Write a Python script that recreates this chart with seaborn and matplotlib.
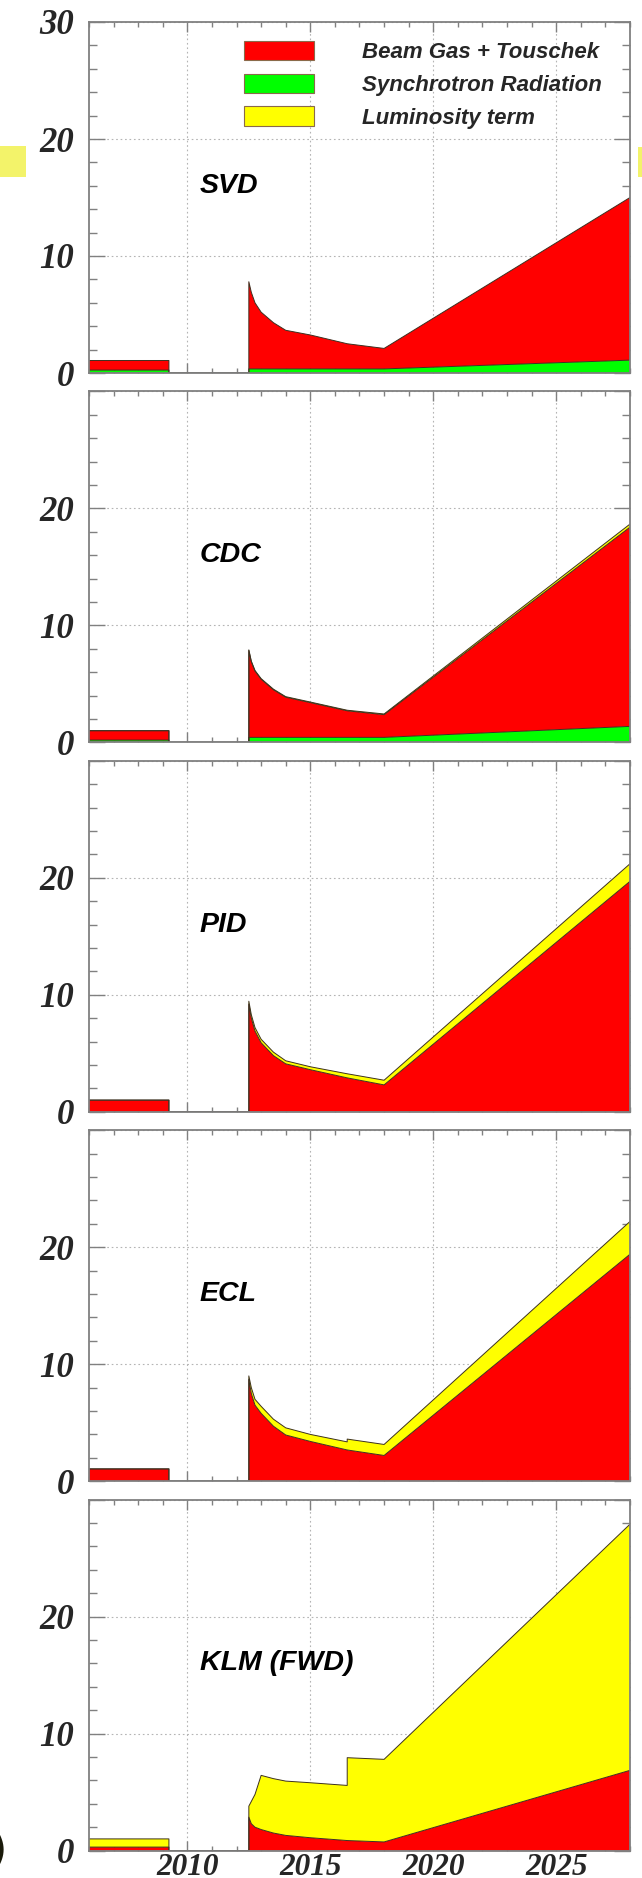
import numpy as np
import pandas as pd
import matplotlib
matplotlib.use("Agg")
import matplotlib.pyplot as plt
from matplotlib.patches import Patch, Rectangle
from matplotlib.ticker import MultipleLocator
import seaborn as sns

# ---- data: background rates per sub-detector (stacked components) ----
years = [2006.0, 2009.25, 2009.25, 2012.5, 2012.5, 2012.6, 2012.75, 2013.0,
         2013.5, 2014.0, 2015.0, 2016.5, 2016.5, 2018.0, 2028.0]

detectors = ["SVD", "CDC", "PID", "ECL", "KLM (FWD)"]

svd_sr = [0.25, 0.25, 0, 0, 0.35, 0.35, 0.35, 0.35, 0.35, 0.35, 0.35, 0.35, 0.35, 0.35, 1.1]
svd_bg = [0.82, 0.82, 0, 0, 7.45, 6.55, 5.65, 4.85, 3.95, 3.3, 2.9, 2.15, 2.15, 1.75, 13.9]
svd_lumi = [0, 0, 0, 0, 0, 0, 0, 0, 0, 0, 0, 0, 0, 0, 0]

cdc_sr = [0.2, 0.2, 0, 0, 0.43, 0.43, 0.43, 0.43, 0.43, 0.43, 0.43, 0.43, 0.43, 0.43, 1.37]
cdc_bg = [0.8, 0.8, 0, 0, 7.43, 6.47, 5.67, 4.97, 4.07, 3.43, 2.97, 2.27, 2.27, 1.94, 17.03]
cdc_lumi = [0, 0, 0, 0, 0.05, 0.05, 0.05, 0.05, 0.05, 0.05, 0.05, 0.05, 0.05, 0.06, 0.26]

pid_sr = [0, 0, 0, 0, 0, 0, 0, 0, 0, 0, 0, 0, 0, 0, 0]
pid_bg = [1.0, 1.0, 0, 0, 9.2, 8.0, 6.9, 5.9, 4.8, 4.1, 3.6, 2.9, 2.9, 2.3, 19.7]
pid_lumi = [0, 0, 0, 0, 0.25, 0.3, 0.3, 0.3, 0.3, 0.26, 0.25, 0.35, 0.35, 0.4, 1.5]

ecl_sr = [0, 0, 0, 0, 0, 0, 0, 0, 0, 0, 0, 0, 0, 0, 0]
ecl_bg = [1.05, 1.05, 0, 0, 8.7, 7.5, 6.5, 5.8, 4.7, 3.95, 3.4, 2.67, 2.67, 2.2, 19.4]
ecl_lumi = [0, 0, 0, 0, 0.3, 0.5, 0.5, 0.6, 0.6, 0.61, 0.6, 0.69, 0.93, 0.94, 2.8]

klm_sr = [0, 0, 0, 0, 0, 0, 0, 0, 0, 0, 0, 0, 0, 0, 0]
klm_bg = [0.3, 0.3, 0, 0, 2.86, 2.3, 2.0, 1.8, 1.5, 1.3, 1.1, 0.86, 0.86, 0.74, 6.86]
klm_lumi = [0.7, 0.7, 0, 0, 0.94, 1.9, 2.8, 4.63, 4.65, 4.64, 4.7, 4.71, 7.08, 7.06, 21.04]

components = ["Synchrotron Radiation", "Beam Gas + Touschek", "Luminosity term"]
legend_order = ["Beam Gas + Touschek", "Synchrotron Radiation", "Luminosity term"]
x_ticks = [2010, 2015, 2020, 2025]
x_tick_labels = ["2010", "2015", "2020", "2025"]

series = {
    "SVD": (svd_sr, svd_bg, svd_lumi),
    "CDC": (cdc_sr, cdc_bg, cdc_lumi),
    "PID": (pid_sr, pid_bg, pid_lumi),
    "ECL": (ecl_sr, ecl_bg, ecl_lumi),
    "KLM (FWD)": (klm_sr, klm_bg, klm_lumi),
}

# long-form table with stacked bottoms/tops
rows = []
for det in detectors:
    base = np.zeros(len(years))
    for comp, vals in zip(components, series[det]):
        vals = np.asarray(vals, dtype=float)
        for k, yr in enumerate(years):
            rows.append(dict(detector=det, component=comp, idx=k, year=yr,
                             bottom=base[k], top=base[k] + vals[k]))
        base = base + vals
df = pd.DataFrame(rows)

colors = {"Beam Gas + Touschek": "#ff0000",
          "Synchrotron Radiation": "#00ff00",
          "Luminosity term": "#ffff00"}
edge = "#3c3020"

# ---- style ----
sns.set_style("ticks")
plt.rcParams["font.family"] = ["Liberation Sans", "DejaVu Sans"]

W, H = 642, 1878
fig = plt.figure(figsize=(W / 100, H / 100), dpi=100)
fig.patch.set_facecolor("white")

left_px, right_px = 89, 630
top0, panel_h, step = 22.0, 351.0, 369.4
frame_col = "#808080"

ytick_font = dict(fontfamily="Liberation Serif", fontweight="bold",
                  fontstyle="italic", fontsize=25)
xtick_font = dict(fontfamily="Liberation Serif", fontweight="bold",
                  fontstyle="italic", fontsize=22.5)

for i, det in enumerate(detectors):
    top = top0 + i * step
    ax = fig.add_axes([left_px / W, 1 - (top + panel_h) / H,
                       (right_px - left_px) / W, panel_h / H])
    ax.set_facecolor("white")
    ax.set_axisbelow(True)
    d = df[df.detector == det]
    for comp in components:
        c = d[d.component == comp].sort_values("idx")
        if np.allclose(c["top"].values, c["bottom"].values):
            continue
        ax.fill_between(c["year"], c["bottom"], c["top"], facecolor=colors[comp],
                        edgecolor="none", linewidth=0, zorder=2)
        sns.lineplot(data=c, x="year", y="top", estimator=None, sort=False,
                     color=edge, linewidth=0.7, ax=ax, zorder=3)
    # outline along the baseline in the gap between running periods
    gap = d[(d.component == components[0])].sort_values("idx")
    sns.lineplot(data=gap, x="year", y="bottom", estimator=None, sort=False,
                 color="#303030", linewidth=1.0, ax=ax, zorder=3)

    ax.set_xlim(2006, 2028)
    ax.set_ylim(0, 30)
    ax.set_xlabel("")
    ax.set_ylabel("")

    ylabels = ["0", "10", "20", "30"] if i == 0 else ["0", "10", "20", ""]
    ax.set_yticks([0, 10, 20, 30], labels=ylabels, **ytick_font)
    if i == len(detectors) - 1:
        ax.set_xticks(x_ticks, labels=x_tick_labels, **xtick_font)
    else:
        ax.set_xticks(x_ticks, labels=["" for _ in x_ticks])
    ax.xaxis.set_minor_locator(MultipleLocator(1))
    ax.yaxis.set_minor_locator(MultipleLocator(2))

    ax.tick_params(axis="y", which="major", direction="in", length=11.5, width=1.0,
                   color=frame_col, left=True, right=True, pad=11)
    ax.tick_params(axis="y", which="minor", direction="in", length=5.8, width=1.0,
                   color=frame_col, left=True, right=True)
    ax.tick_params(axis="x", which="major", direction="in", length=7.5, width=1.0,
                   color=frame_col, top=True, bottom=True, pad=1.5)
    ax.tick_params(axis="x", which="minor", direction="in", length=3.8, width=1.0,
                   color=frame_col, top=True, bottom=True)

    ax.grid(True, which="major", color="#b4b4b4", linestyle=(0, (1.5, 2.5)),
            linewidth=0.8)
    for sp in ax.spines.values():
        sp.set_visible(True)
        sp.set_color(frame_col)
        sp.set_linewidth(1.3)
        sp.set_zorder(5)

    ax.text(2010.5, 16.0, det, ha="left", va="center", fontsize=20.5,
            fontweight="bold", fontstyle="italic", color="black", zorder=6)

    if i == 0:
        handles = [Patch(facecolor=colors[c], edgecolor="#8a6a4a", linewidth=0.8)
                   for c in legend_order]
        leg = ax.legend(handles, legend_order, loc="upper left",
                        bbox_to_anchor=(244 / W, 1 - 41 / H),
                        bbox_transform=fig.transFigure, frameon=False,
                        prop=dict(family="Liberation Sans", weight="bold",
                                  style="italic", size=16),
                        handlelength=3.15, handleheight=0.97, handletextpad=2.15,
                        labelspacing=0.46, borderpad=0, borderaxespad=0)

# slide decoration fragments at the edges
fig.add_artist(Rectangle((0, 1 - 177 / H), 26 / W, 31 / H, transform=fig.transFigure,
                         facecolor="#f3f36a", edgecolor="none"))
fig.add_artist(Rectangle((638 / W, 1 - 177 / H), 4 / W, 30 / H,
                         transform=fig.transFigure, facecolor="#f3f36a",
                         edgecolor="none"))
fig.text(7 / W, 1 - 1852 / H, ")", ha="right", va="center", fontsize=34,
         fontweight="bold", color="#1a1a0a", family="DejaVu Sans")

fig.savefig("out.png", dpi=100, facecolor="white")
